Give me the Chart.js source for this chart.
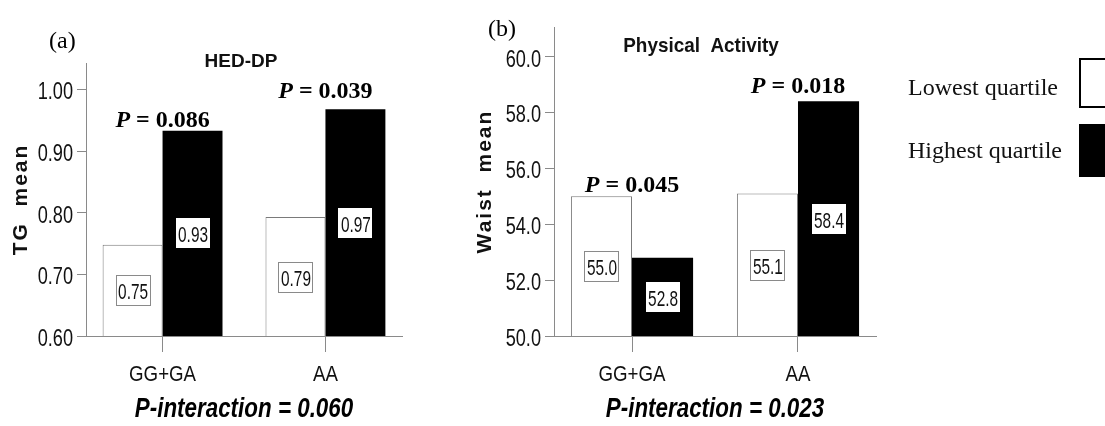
<!DOCTYPE html>
<html>
<head>
<meta charset="utf-8">
<script src="https://cdn.jsdelivr.net/npm/chart.js@4.4.1/dist/chart.umd.min.js"></script>
<style>
  body { margin: 0; background: #fff; }
  #wrap { position: relative; width: 1105px; height: 426px; overflow: hidden; }
  #wrap canvas { position: absolute; left: 0; top: 0; }
  .leg { position: absolute; font-family: 'Liberation Serif', 'Times New Roman', serif; font-size: 24px; color: #111; line-height: 24px; white-space: nowrap; }
  .sw { position: absolute; box-sizing: border-box; }
</style>
</head>
<body>
<div id="wrap">
  <canvas id="chartA" width="1105" height="426"></canvas>
  <canvas id="chartB" width="1105" height="426"></canvas>
  <div class="leg" style="left:908px; top:75px;">Lowest quartile</div>
  <div class="sw" style="left:1079px; top:58px; width:40px; height:50px; border:2px solid #000; background:#fff;"></div>
  <div class="leg" style="left:908px; top:138px;">Highest quartile</div>
  <div class="sw" style="left:1079px; top:124px; width:40px; height:53px; background:#000;"></div>
</div>
<script>
// data
const categories = ['GG+GA', 'AA'];
const seriesNames = ['Lowest quartile', 'Highest quartile'];
const tgLowest = [0.748, 0.793];
const tgHighest = [0.933, 0.968];
const waistLowest = [55.0, 55.1];
const waistHighest = [52.8, 58.4];
const tgTicks = [0.60, 0.70, 0.80, 0.90, 1.00];
const waistTicks = [50.0, 52.0, 54.0, 56.0, 58.0, 60.0];
const tgPValues = ['0.086', '0.039'];
const waistPValues = ['0.045', '0.018'];
const tgInteraction = '0.060';
const waistInteraction = '0.023';

// no narrow face installed, so the regular one gets squeezed by hand
const sans = "'Liberation Sans', Arial, sans-serif";
const serif = "'Liberation Serif', 'Times New Roman', serif";

function drawText(ctx, txt, x, y, font, sx) {
    ctx.save();
    ctx.translate(x, y);
    ctx.scale(sx, 1);
    ctx.font = font;
    ctx.fillText(txt, 0, 0);
    ctx.restore();
}

const panelText = {
    id: 'panelText',
    afterDatasetsDraw(chart, args, o) {
        const ctx = chart.ctx;
        const area = chart.chartArea;
        const xs = chart.scales.x;
        const ys = chart.scales.y;
        ctx.save();

        // tick labels, placed from the library's scales
        ctx.fillStyle = '#111';
        ctx.textBaseline = 'alphabetic';
        ctx.textAlign = 'right';
        ys.ticks.forEach(t => {
            drawText(ctx, t.value.toFixed(o.dec), area.left - 13, ys.getPixelForValue(t.value) + 10,
                '23px ' + sans, 0.79);
        });
        ctx.textAlign = 'center';
        xs.ticks.forEach(t => {
            drawText(ctx, categories[t.value], xs.getPixelForValue(t.value), area.bottom + 45,
                '22px ' + sans, 0.85);
        });

        // boxed value labels, halfway up each bar
        chart.data.datasets.forEach((ds, di) => {
            chart.getDatasetMeta(di).data.forEach((bar, i) => {
                const txt = ds.data[i].y.toFixed(o.dec);
                ctx.font = '22px ' + sans;
                const w = Math.round(ctx.measureText(txt).width * 0.7 + 4);
                const h = 30;
                const base = Math.min(bar.base, area.bottom);
                const cy = (bar.y + base) / 2;
                const bx = Math.round(bar.x - w / 2);
                const by = Math.round(cy - h / 2);
                ctx.fillStyle = '#fff';
                ctx.fillRect(bx, by, w, h);
                if (di === 0) {
                    ctx.strokeStyle = '#8a8a8a';
                    ctx.lineWidth = 1;
                    ctx.strokeRect(bx + 0.5, by + 0.5, w, h);
                }
                ctx.fillStyle = '#111';
                ctx.textAlign = 'center';
                ctx.textBaseline = 'alphabetic';
                drawText(ctx, txt, bar.x + 0.5, by + h / 2 + 8.5, '22px ' + sans, 0.7);
            });
        });

        // P values above each group
        ctx.fillStyle = '#000';
        ctx.textAlign = 'left';
        ctx.textBaseline = 'alphabetic';
        o.pValues.forEach((p, i) => {
            const top = Math.min(chart.getDatasetMeta(0).data[i].y, chart.getDatasetMeta(1).data[i].y);
            const base = top - o.pGap[i];
            const f1 = 'italic bold 24px ' + serif;
            const f2 = 'bold 24px ' + serif;
            const rest = ' = ' + p;
            ctx.font = f1;
            const w1 = ctx.measureText('P').width;
            ctx.font = f2;
            const w2 = ctx.measureText(rest).width;
            const x0 = xs.getPixelForValue(i) - (w1 + w2) / 2;
            ctx.font = f1;
            ctx.fillText('P', x0, base);
            ctx.font = f2;
            ctx.fillText(rest, x0 + w1, base);
        });

        // title
        ctx.textAlign = 'center';
        ctx.fillStyle = '#111';
        drawText(ctx, o.title, o.titleX, o.titleY, 'bold ' + o.titleSize + 'px ' + sans, o.titleSq);

        // panel letter
        ctx.textAlign = 'left';
        ctx.font = '24px ' + serif;
        ctx.fillStyle = '#000';
        ctx.fillText(o.letter, o.letterX, o.letterY);

        // y axis title
        ctx.save();
        ctx.translate(o.yTitleX, (area.top + area.bottom) / 2);
        ctx.rotate(-Math.PI / 2);
        ctx.textAlign = 'center';
        ctx.textBaseline = 'middle';
        ctx.font = 'bold 21px ' + sans;
        ctx.letterSpacing = '2px';
        ctx.fillStyle = '#111';
        ctx.fillText(o.yTitle, 0, 0);
        ctx.restore();

        // interaction p
        ctx.textAlign = 'center';
        ctx.textBaseline = 'alphabetic';
        ctx.fillStyle = '#000';
        drawText(ctx, 'P-interaction = ' + o.interaction, (area.left + area.right) / 2, 417,
            'italic bold 28px ' + sans, 0.8);

        ctx.restore();
    }
};

function makePanel(id, low, high, yTicks, dec, yMax, pad, text) {
    return new Chart(document.getElementById(id), {
        type: 'bar',
        data: {
            datasets: [
                {
                    label: seriesNames[0],
                    data: categories.map((c, i) => ({ x: i, y: low[i] })),
                    backgroundColor: '#fff',
                    borderColor: '#7a7a7a',
                    borderWidth: 1,
                },
                {
                    label: seriesNames[1],
                    data: categories.map((c, i) => ({ x: i, y: high[i] })),
                    backgroundColor: '#000',
                    borderColor: '#000',
                    borderWidth: 0,
                }
            ]
        },
        options: {
            responsive: false,
            animation: false,
            layout: { padding: pad },
            datasets: { bar: { categoryPercentage: 0.736, barPercentage: 1 } },
            plugins: {
                legend: { display: false },
                tooltip: { enabled: false },
                title: { display: false },
                panelText: text,
            },
            scales: {
                x: {
                    type: 'linear',
                    min: -0.47,
                    max: 1.47,
                    offset: false,
                    afterBuildTicks: s => { s.ticks = categories.map((c, i) => ({ value: i })); },
                    afterFit: s => { s.height = 40; },
                    ticks: { display: false },
                    grid: { display: true, drawOnChartArea: false, drawTicks: true, tickLength: 16, color: '#8a8a8a', offset: false },
                    border: { display: true, color: '#8a8a8a', width: 1 },
                },
                y: {
                    min: yTicks[0],
                    max: yMax,
                    afterBuildTicks: s => { s.ticks = yTicks.map(v => ({ value: v })); },
                    afterFit: s => { s.width = 86; },
                    ticks: { display: false },
                    grid: { display: true, drawOnChartArea: false, drawTicks: true, tickLength: 9, color: '#8a8a8a' },
                    border: { display: true, color: '#8a8a8a', width: 1 },
                }
            }
        },
        plugins: [panelText]
    });
}

makePanel('chartA', tgLowest, tgHighest, tgTicks, 2, 1.043,
    { left: 0, top: 63, right: 703, bottom: 50 },
    { dec: 2, pValues: tgPValues, pGap: [4, 11], title: 'HED-DP', titleX: 241, titleY: 67, titleSize: 19, titleSq: 1,
      letter: '(a)', letterX: 49, letterY: 48, yTitle: 'TG  mean', yTitleX: 21, interaction: tgInteraction });

makePanel('chartB', waistLowest, waistHighest, waistTicks, 1, 61.06,
    { left: 468, top: 27, right: 229, bottom: 50 },
    { dec: 1, pValues: waistPValues, pGap: [4, 8], title: 'Physical  Activity', titleX: 701, titleY: 52, titleSize: 21, titleSq: 0.9,
      letter: '(b)', letterX: 488, letterY: 36, yTitle: 'Waist  mean', yTitleX: 485, interaction: waistInteraction });
</script>
</body>
</html>
